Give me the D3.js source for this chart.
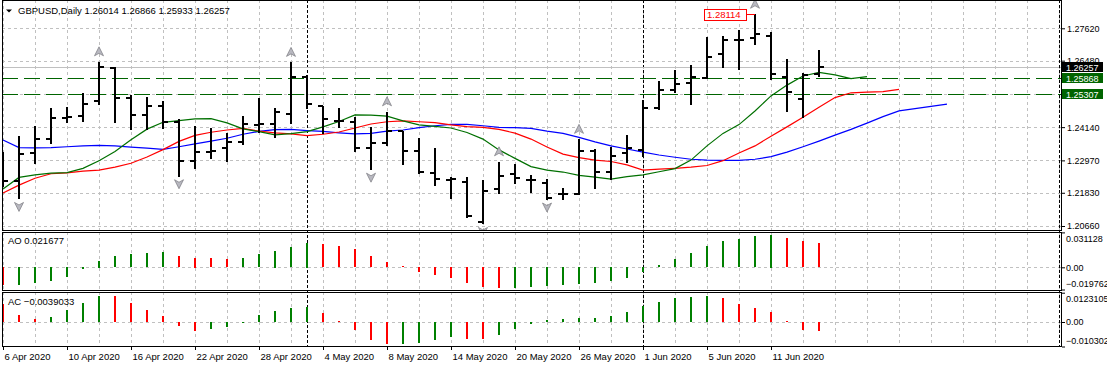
<!DOCTYPE html>
<html>
<head>
<meta charset="utf-8">
<script src="https://cdn.jsdelivr.net/npm/d3@7"></script>
<style>
	body{margin:0;background:#fff;}
	svg text{font-family:"Liberation Sans",Arial,sans-serif;font-size:9.5px;fill:#000;}
	svg .scale text{font-size:9px;}
</style>
</head>
<body>
<svg></svg>
<script>
var WIDTH = 1107;
var HEIGHT = 367;

// daily bars, GBPUSD
var dates = ['2020-04-06','2020-04-07','2020-04-08','2020-04-09','2020-04-10','2020-04-13','2020-04-14','2020-04-15','2020-04-16','2020-04-17',
	'2020-04-20','2020-04-21','2020-04-22','2020-04-23','2020-04-24','2020-04-27','2020-04-28','2020-04-29','2020-04-30','2020-05-01',
	'2020-05-04','2020-05-05','2020-05-06','2020-05-07','2020-05-08','2020-05-11','2020-05-12','2020-05-13','2020-05-14','2020-05-15',
	'2020-05-18','2020-05-19','2020-05-20','2020-05-21','2020-05-22','2020-05-25','2020-05-26','2020-05-27','2020-05-28','2020-05-29',
	'2020-06-01','2020-06-02','2020-06-03','2020-06-04','2020-06-05','2020-06-08','2020-06-09','2020-06-10','2020-06-11','2020-06-12',
	'2020-06-15','2020-06-16'];
var opens = [1.2290,1.2224,1.2324,1.2371,1.2446,1.2454,1.2506,1.2621,1.2518,1.2456,
	1.2490,1.2433,1.2296,1.2327,1.2342,1.2363,1.2423,1.2425,1.2459,1.2590,
	1.2487,1.2436,1.2431,1.2342,1.2359,1.2400,1.2331,1.2254,1.2229,1.2222,
	1.2079,1.2195,1.2249,1.2229,1.2216,1.2178,1.2180,1.2331,1.2257,1.2322,
	1.2334,1.2482,1.2544,1.2570,1.2588,1.2670,1.2721,1.2727,1.2736,1.2592,
	1.2513,1.26014];
var highs = [1.2327,1.2383,1.2418,1.2480,1.2486,1.2533,1.2644,1.2627,1.2527,1.2521,
	1.2506,1.2442,1.2418,1.2412,1.2394,1.2453,1.2516,1.2482,1.2642,1.2598,
	1.2488,1.2480,1.2449,1.2416,1.2468,1.2402,1.2375,1.2340,1.2240,1.2237,
	1.2228,1.2292,1.2283,1.2246,1.2231,1.2201,1.2371,1.2337,1.2345,1.2386,
	1.2510,1.2576,1.2615,1.2633,1.2730,1.2735,1.2756,1.28114,1.2750,1.2654,
	1.2604,1.26866];
var lows = [1.2207,1.2163,1.2287,1.2357,1.2433,1.2436,1.2494,1.2433,1.2406,1.2406,
	1.2412,1.2243,1.2271,1.2306,1.2295,1.2354,1.2398,1.2380,1.2428,1.2480,
	1.2394,1.2416,1.2331,1.2266,1.2351,1.2283,1.2254,1.2210,1.2163,1.2099,
	1.2075,1.2181,1.2216,1.2187,1.2161,1.2161,1.2178,1.2201,1.2230,1.2290,
	1.2313,1.2478,1.2538,1.2496,1.2586,1.2627,1.2618,1.2706,1.2583,1.2472,
	1.2451,1.25933];
var closes = [1.2224,1.2319,1.2372,1.2445,1.2449,1.2496,1.2625,1.2518,1.2456,1.2490,
	1.2433,1.2296,1.2325,1.2330,1.2363,1.2424,1.2425,1.2468,1.2590,1.2494,
	1.2442,1.2437,1.2342,1.2357,1.2400,1.2331,1.2256,1.2231,1.2230,1.2100,
	1.2190,1.2243,1.2234,1.2227,1.2163,1.2179,1.2331,1.2257,1.2313,1.2339,
	1.2482,1.2545,1.2566,1.2592,1.2662,1.2721,1.2722,1.2742,1.2600,1.2539,
	1.2598,1.26257];

// alligator lines (they run past the last bar)
var jaw = [1.2369,1.2342,1.2341,1.2342,1.2345,1.2348,1.2350,1.2348,1.2344,1.2340,
	1.2336,1.2345,1.2355,1.2365,1.2375,1.2389,1.2399,1.2405,1.2406,1.2402,
	1.2399,1.2394,1.2390,1.2392,1.2400,1.2404,1.2412,1.2419,1.2424,1.2424,
	1.2419,1.2413,1.2412,1.2410,1.2400,1.2392,1.2378,1.2362,1.2348,1.2337,
	1.2326,1.2316,1.2308,1.2301,1.2298,1.2297,1.2297,1.2301,1.2310,1.2326,
	1.2345,1.2365,1.2386,1.2406,1.2428,1.2451,1.2471,1.2479,1.2487,1.2495];
var teeth = [1.2182,1.2210,1.2234,1.2250,1.2253,1.2259,1.2263,1.2273,1.2287,1.2309,
	1.2335,1.2364,1.2385,1.2396,1.2404,1.2410,1.2400,1.2394,1.2390,1.2384,
	1.2389,1.2397,1.2411,1.2425,1.2433,1.2436,1.2433,1.2430,1.2422,1.2416,
	1.2413,1.2406,1.2393,1.2372,1.2344,1.2319,1.2307,1.2298,1.2293,1.2281,
	1.2263,1.2266,1.2269,1.2273,1.2279,1.2296,1.2323,1.2348,1.2382,1.2415,
	1.2449,1.2484,1.2518,1.2535,1.2537,1.2539,1.2547];
var lips = [1.2196,1.2237,1.2246,1.2252,1.2254,1.2269,1.2296,1.2328,1.2370,1.2407,
	1.2431,1.2437,1.2443,1.2444,1.2429,1.2408,1.2398,1.2387,1.2391,1.2398,
	1.2415,1.2434,1.2457,1.2456,1.2453,1.2436,1.2422,1.2417,1.2411,1.2395,
	1.2372,1.2334,1.2304,1.2275,1.2263,1.2256,1.2244,1.2238,1.2231,1.2240,
	1.2246,1.2257,1.2268,1.2298,1.2348,1.2392,1.2423,1.2471,1.2524,1.2562,
	1.2594,1.2607,1.2598,1.2585,1.2592];

var ao = [-0.0160,-0.0156,-0.0140,-0.0128,-0.0087,-0.0021,0.0059,0.0101,0.0119,0.0128,
	0.0136,0.0101,0.0085,0.0082,0.0074,0.0083,0.0119,0.0148,0.0181,0.0219,
	0.0208,0.0190,0.0163,0.0101,0.0047,0.0012,-0.0042,-0.0069,-0.0095,-0.0140,
	-0.0176,-0.0185,-0.0183,-0.0176,-0.0167,-0.0158,-0.0149,-0.0140,-0.0122,-0.0095,
	-0.0042,0.0021,0.0074,0.0128,0.0190,0.0235,0.0253,0.0280,0.0290,0.0262,
	0.0235,0.021677];
var ac = [0.0074,0.0029,0.0013,0.0021,0.0050,0.0080,0.0109,0.0108,0.0080,0.0050,
	0.0025,-0.0017,-0.0038,-0.0029,-0.0021,-0.0002,0.0029,0.0046,0.0059,0.0063,
	0.0038,0.0004,-0.0034,-0.0076,-0.0092,-0.0091,-0.0088,-0.0076,-0.0063,-0.0071,
	-0.0072,-0.0055,-0.0029,-0.0007,0.0008,0.0013,0.0017,0.0018,0.0025,0.0042,
	0.0067,0.0084,0.0101,0.0105,0.0109,0.0101,0.0076,0.0059,0.0042,0.0004,
	-0.0034,-0.0039033];

var fractalsUp = [6, 18, 24, 31, 36, 47];
var fractalsDown = [1, 11, 23, 30, 34];

var priceTicks = [1.2762, 1.2648, 1.2531, 1.2414, 1.2297, 1.2183, 1.2066];
var bidPrice = 1.26257;
var levels = [1.25868, 1.25307];
var aoRange = [-0.019762, 0.031128];
var acRange = [-0.0103024, 0.0123105];

var LEFT = 2, RIGHT = 1061;
var MAIN = {top: 0, bottom: 230};
var AOP = {top: 232, bottom: 290};
var ACP = {top: 292, bottom: 346};

var svg = d3.select('svg')
	.attr('width', WIDTH)
	.attr('height', HEIGHT);

var x = d3.scaleLinear().domain([0, 1]).range([3, 19]); // bar index -> px
var y = d3.scaleLinear().domain([1.2066, 1.2762]).range([226, 28.3]);
var yAO = d3.scaleLinear().domain(aoRange).range([289.5, 232.4]);
var yAC = d3.scaleLinear().domain(acRange).range([346.5, 292.7]);

var parseDate = d3.timeParse('%Y-%m-%d');
var fmtDate = d3.timeFormat('%-d %b %Y');

// clip rects for the three panes
var defs = svg.append('defs');
[['clipMain', MAIN], ['clipAO', AOP], ['clipAC', ACP]].forEach(function(c){
	defs.append('clipPath').attr('id', c[0]).append('rect')
		.attr('x', LEFT).attr('y', c[1].top)
		.attr('width', RIGHT - LEFT).attr('height', c[1].bottom - c[1].top);
});

// vertical grid every 2 bars
var gridIdx = d3.range(0, 80, 2).filter(function(i){ return x(i) < RIGHT - 1; });
var grid = svg.append('g')
	.attr('stroke', '#c0c0c0')
	.attr('stroke-dasharray', '3,3')
	.attr('shape-rendering', 'crispEdges');
[MAIN, AOP, ACP].forEach(function(p){
	grid.selectAll(null).data(gridIdx).enter().append('line')
		.attr('x1', function(i){ return x(i) + 0.5; })
		.attr('x2', function(i){ return x(i) + 0.5; })
		.attr('y1', p.top).attr('y2', p.bottom);
});
grid.selectAll(null).data(priceTicks).enter().append('line')
	.attr('x1', LEFT).attr('x2', RIGHT)
	.attr('y1', function(d){ return Math.round(y(d)) + 0.5; })
	.attr('y2', function(d){ return Math.round(y(d)) + 0.5; });
grid.append('line').attr('x1', LEFT).attr('x2', RIGHT)
	.attr('y1', Math.round(yAO(0)) + 0.5).attr('y2', Math.round(yAO(0)) + 0.5);
grid.append('line').attr('x1', LEFT).attr('x2', RIGHT)
	.attr('y1', Math.round(yAC(0)) + 0.5).attr('y2', Math.round(yAC(0)) + 0.5);

// month separators
var monthStarts = dates.map(function(d, i){ return i; }).filter(function(i){
	return i > 0 && dates[i].slice(5, 7) !== dates[i - 1].slice(5, 7);
});
svg.append('g').selectAll('line').data(monthStarts).enter().append('line')
	.attr('x1', function(i){ return x(i) + 0.5; })
	.attr('x2', function(i){ return x(i) + 0.5; })
	.attr('y1', 0).attr('y2', ACP.bottom)
	.attr('stroke', '#000').attr('stroke-dasharray', '3,2')
	.attr('shape-rendering', 'crispEdges');

var main = svg.append('g').attr('clip-path', 'url(#clipMain)');

// bid line and the two levels
main.append('line').attr('x1', LEFT).attr('x2', RIGHT)
	.attr('y1', Math.round(y(bidPrice)) + 0.5).attr('y2', Math.round(y(bidPrice)) + 0.5)
	.attr('stroke', '#c0c0c0').attr('shape-rendering', 'crispEdges');
main.selectAll('.level').data(levels).enter().append('line')
	.attr('class', 'level')
	.attr('x1', LEFT).attr('x2', RIGHT)
	.attr('y1', function(d){ return Math.round(y(d)) + 0.5; })
	.attr('y2', function(d){ return Math.round(y(d)) + 0.5; })
	.attr('stroke', '#006400').attr('stroke-dasharray', '16,6')
	.attr('shape-rendering', 'crispEdges');

// alligator
var line = d3.line()
	.x(function(d, i){ return x(i); })
	.y(function(d){ return y(d); });
[[jaw, '#0000ff'], [teeth, '#ff0000'], [lips, '#007000']].forEach(function(s){
	main.append('path').datum(s[0])
		.attr('d', line)
		.attr('fill', 'none')
		.attr('stroke', s[1])
		.attr('stroke-width', 1.2);
});

// OHLC bars
var bars = main.append('g')
	.attr('stroke', '#000')
	.attr('stroke-width', 2)
	.attr('shape-rendering', 'crispEdges');
dates.forEach(function(d, i){
	var cx = x(i);
	bars.append('line').attr('x1', cx).attr('x2', cx)
		.attr('y1', Math.round(y(highs[i]))).attr('y2', Math.round(y(lows[i])) + 1);
	bars.append('line').attr('x1', cx - 5).attr('x2', cx)
		.attr('y1', Math.round(y(opens[i]))).attr('y2', Math.round(y(opens[i])));
	bars.append('line').attr('x1', cx).attr('x2', cx + 5)
		.attr('y1', Math.round(y(closes[i]))).attr('y2', Math.round(y(closes[i])));
});

// fractals
var arrows = main.append('g')
	.attr('fill', '#b8b8c0')
	.attr('stroke', '#7a7a80')
	.attr('stroke-width', 0.7);
arrows.selectAll('.up').data(fractalsUp).enter().append('path')
	.attr('class', 'up')
	.attr('d', 'M0,-5L4.5,4L0,1.5L-4.5,4Z')
	.attr('transform', function(i){ return 'translate(' + x(i) + ',' + (y(highs[i]) - 10) + ')'; });
arrows.selectAll('.down').data(fractalsDown).enter().append('path')
	.attr('class', 'down')
	.attr('d', 'M0,5L4.5,-4L0,-1.5L-4.5,-4Z')
	.attr('transform', function(i){ return 'translate(' + x(i) + ',' + (y(lows[i]) + 8) + ')'; });

// label for the highest high
var hiIdx = d3.maxIndex(highs);
var hiY = Math.round(y(highs[hiIdx]));
var boxRight = x(hiIdx) - 9;
main.append('line').attr('x1', boxRight).attr('x2', x(hiIdx))
	.attr('y1', hiY + 0.5).attr('y2', hiY + 0.5)
	.attr('stroke', '#ff0000').attr('shape-rendering', 'crispEdges');
main.append('rect').attr('x', boxRight - 42 + 0.5).attr('y', hiY - 5 + 0.5)
	.attr('width', 42).attr('height', 11)
	.attr('fill', '#fff').attr('stroke', '#ff0000').attr('shape-rendering', 'crispEdges');
main.append('text').attr('x', boxRight - 39).attr('y', hiY + 4)
	.style('fill', '#ff0000')
	.text(d3.format('.5f')(highs[hiIdx]));

// AO and AC histograms
function histColor(arr, i){
	return (i > 0 && arr[i] > arr[i - 1]) ? '#008000' : '#ff0000';
}
function histogram(arr, scale, clip){
	svg.append('g').attr('clip-path', clip).attr('shape-rendering', 'crispEdges')
		.selectAll('rect').data(arr).enter().append('rect')
		.attr('x', function(d, i){ return x(i) - 1; })
		.attr('width', 2)
		.attr('y', function(d){ return Math.round(Math.min(scale(d), scale(0))); })
		.attr('height', function(d){ return Math.max(1, Math.round(Math.abs(scale(d) - scale(0)))); })
		.attr('fill', function(d, i){ return histColor(arr, i); });
}
histogram(ao, yAO, 'url(#clipAO)');
histogram(ac, yAC, 'url(#clipAC)');

// pane frames
var frames = svg.append('g').attr('fill', 'none').attr('stroke', '#000').attr('shape-rendering', 'crispEdges');
[MAIN, AOP, ACP].forEach(function(p){
	frames.append('rect').attr('x', LEFT + 0.5).attr('y', p.top + 0.5)
		.attr('width', RIGHT - LEFT).attr('height', p.bottom - p.top);
});
frames.append('line').attr('x1', RIGHT - 1.5).attr('x2', RIGHT - 1.5)
	.attr('y1', 0).attr('y2', ACP.bottom).attr('stroke-dasharray', '3,2');

// right price scale
var priceAxis = d3.axisRight(y).tickValues(priceTicks).tickSize(3).tickPadding(2).tickFormat(d3.format('.5f'));
svg.append('g').attr('class', 'scale').attr('transform', 'translate(' + (RIGHT + 1) + ',0)').call(priceAxis)
	.call(function(g){ g.select('.domain').remove(); });

function subAxis(scale, range, digits){
	var g = svg.append('g').attr('class', 'scale').attr('transform', 'translate(' + (RIGHT + 1) + ',0)')
		.call(d3.axisRight(scale).tickValues([range[1], 0, range[0]]).tickSize(3).tickPadding(1)
			.tickFormat(function(v){ return v === 0 ? '0.00' : d3.format('.' + digits + 'f')(v); }));
	g.select('.domain').remove();
	g.selectAll('text').attr('dy', function(v){
		if(v === range[1]) return '1em';
		if(v === range[0]) return '-0.35em';
		return '0.32em';
	});
}
subAxis(yAO, aoRange, 6);
subAxis(yAC, acRange, 7);

// bid / level tags on the scale
var tags = [[bidPrice, '#000']].concat(levels.map(function(l){ return [l, '#006400']; }));
var tagLayer = svg.append('g').attr('class', 'scale');
tags.forEach(function(t){
	var ty = Math.round(y(t[0]));
	tagLayer.append('rect').attr('x', RIGHT + 1).attr('y', ty - 5)
		.attr('width', 41).attr('height', 10).attr('fill', t[1]);
	tagLayer.append('text').attr('x', RIGHT + 5).attr('y', ty + 3.5)
		.style('fill', '#fff')
		.text(d3.format('.5f')(t[0]));
});

// date scale
var dateAxis = d3.axisBottom(x)
	.tickValues(d3.range(0, dates.length, 4))
	.tickSize(4)
	.tickFormat(function(i){ return fmtDate(parseDate(dates[i])); });
svg.append('g').attr('transform', 'translate(0,' + ACP.bottom + ')').call(dateAxis)
	.call(function(g){
		g.select('.domain').remove();
		g.selectAll('text').attr('text-anchor', 'start').attr('y', 13.5).attr('dy', null).attr('x', 1);
	});

// titles
var last = dates.length - 1;
var f5 = d3.format('.5f');
svg.append('path').attr('d', 'M6,9.5L12,9.5L9,12.5Z').attr('fill', '#000');
svg.append('text').attr('x', 18).attr('y', 14)
	.text('GBPUSD,Daily  ' + [opens[last], highs[last], lows[last], closes[last]].map(f5).join(' '));
svg.append('text').attr('x', 8).attr('y', 244).text('AO ' + d3.format('.6f')(ao[last]));
svg.append('text').attr('x', 8).attr('y', 305).text('AC ' + d3.format('.7f')(ac[last]));
</script>
</body>
</html>
